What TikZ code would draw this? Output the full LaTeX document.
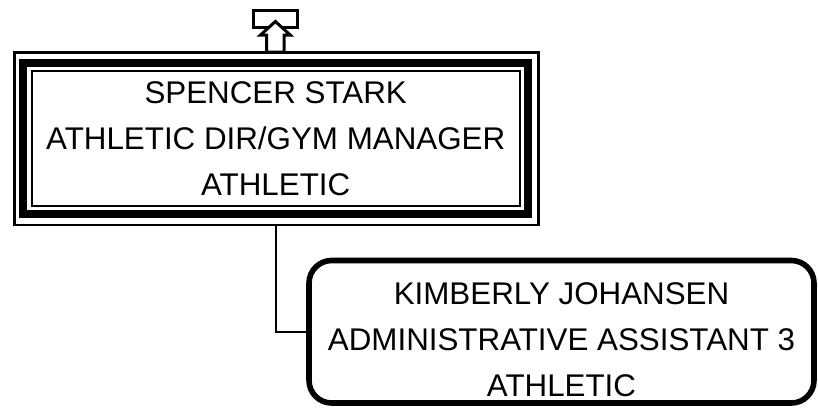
\documentclass[tikz,border=0pt]{standalone}
\usepackage{fontspec}
\setmainfont{Liberation Sans}

\tikzset{
  orgtext/.style={font=\fontsize{23.5}{34.5}\selectfont, align=center},
  mgrbox/.style={draw, line width=6pt, outer sep=0pt, inner sep=0pt,
    minimum width=378.5pt, minimum height=113pt, orgtext},
  outerframe/.style={draw, line width=2.2pt, outer sep=0pt, inner sep=0pt,
    minimum width=393.2pt, minimum height=129.5pt},
  innerframe/.style={draw, line width=1.6pt, outer sep=0pt, inner sep=0pt,
    minimum width=366.5pt, minimum height=101.25pt},
  staffbox/.style={draw, line width=4.2pt, rounded corners=17pt, outer sep=0pt,
    minimum width=378.75pt, minimum height=106.9pt},
  uplinkbox/.style={draw, line width=2.25pt, outer sep=0pt, inner sep=0pt,
    minimum width=32.8pt, minimum height=12.75pt},
  link/.style={draw, line width=1.5pt}
}

\begin{document}
\begin{tikzpicture}[x=0.75pt, y=-0.75pt]
  \useasboundingbox (0,0) rectangle (818,408);

  % Up-link icon above the manager
  \node[uplinkbox] (uplink) at (275.6,19.3) {};
  \draw[line width=2.25pt, fill=white] (275.4,21.5) -- (290.2,35) -- (284.2,35)
    -- (284.2,52) -- (266.5,52) -- (266.5,35) -- (260.5,35) -- cycle;

  % Manager box (triple frame)
  \node[outerframe] (spencer-frame) at (276.35,138.65) {};
  \node[innerframe] (spencer-inner) at (276,138.65) {};
  \node[mgrbox] (spencer) at (275.7,138.65)
    {SPENCER STARK\\ATHLETIC DIR/GYM MANAGER\\ATHLETIC};

  % Assistant box
  \node[staffbox, label={[orgtext, yshift=-6pt]center:{KIMBERLY JOHANSEN\\ADMINISTRATIVE ASSISTANT 3\\ATHLETIC}}]
    (kimberly) at (561.5,331.75) {};

  % Reporting line
  \draw[link] (spencer-frame.south) |- (kimberly.west);
\end{tikzpicture}
\end{document}
